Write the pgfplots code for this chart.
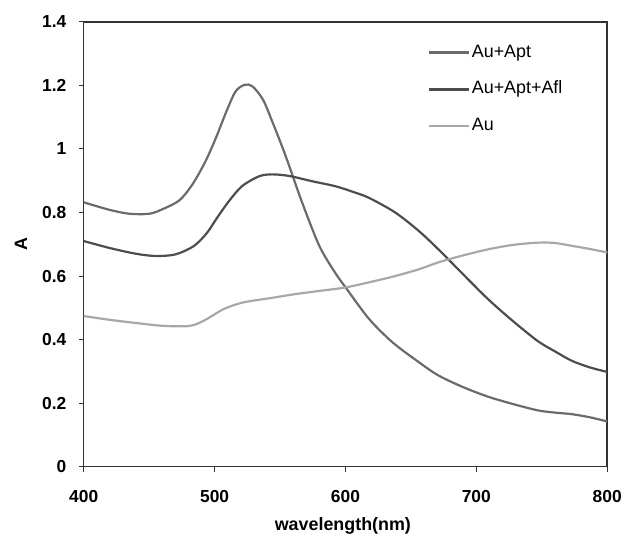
\documentclass[border=0pt]{standalone}
\usepackage{fontspec}
\setmainfont{Liberation Sans}
\usepackage{pgfplots}
\pgfplotsset{compat=1.18}
\definecolor{cApt}{HTML}{6B6B6B}
\definecolor{cAfl}{HTML}{4D4D4D}
\definecolor{cAu}{HTML}{A8A8A8}
\begin{document}
\begin{tikzpicture}[x=1bp,y=1bp]
\begin{axis}[
    scale only axis,
    width=525bp, height=446bp,
    xmin=400, xmax=800, ymin=0, ymax=1.4,
    xtick={400,500,...,800},
    ytick={0,0.2,...,1.4},
    yticklabels={0,0.2,0.4,0.6,0.8,1,1.2,1.4},
    tick pos=left, tick align=outside,
    major tick length=5bp,
    axis line style={draw=black!80, line width=1.5bp},
    tick style={draw=black!80, line width=1bp},
    /pgf/number format/assume math mode=true,
    ticklabel style={font=\fontsize{17.5}{20}\selectfont\bfseries},
    yticklabel style={xshift=-9bp},
    xticklabel style={yshift=-15bp},
    xlabel={wavelength(nm)},
    ylabel={A},
    label style={font=\fontsize{18}{21}\selectfont\bfseries},
    xlabel style={at={(rel axis cs:0.495,-0.1345)}, anchor=center},
    ylabel style={at={(rel axis cs:-0.12,0.5)}, anchor=center},
    legend style={draw=none, fill=none, at={(rel axis cs:0.657,0.955)}, anchor=north west,
        font=\fontsize{18}{21}\selectfont, row sep=16bp, inner sep=0pt,
        nodes={text height=13bp, text depth=4bp, inner xsep=2bp}},
    legend cell align=left,
    legend image code/.code={\draw[#1] (0bp,0bp) -- (40bp,0bp);},
    clip=false,
]
\addplot[cApt, line width=2.2bp, smooth] coordinates {
(400,0.832) (420,0.808) (435,0.796) (450,0.796) (460,0.810) (473,0.838)
(483,0.888) (493,0.961) (501,1.035) (509,1.118) (516,1.181) (523,1.202)
(529,1.197) (537,1.155) (544,1.087) (552,1.003) (558,0.935) (567,0.830)
(580,0.695) (592,0.611) (601,0.559) (618,0.465) (636,0.391) (656,0.329)
(671,0.287) (690,0.250) (709,0.220) (728,0.197) (747,0.177) (760,0.170)
(773,0.165) (787,0.155) (800,0.142)};
\addlegendentry{Au+Apt}
\addplot[cAfl, line width=2.2bp, smooth] coordinates {
(400,0.710) (420,0.688) (440,0.670) (455,0.663) (470,0.668) (484,0.694)
(494,0.735) (502,0.784) (511,0.836) (521,0.883) (534,0.914) (544,0.920)
(557,0.915) (575,0.898) (592,0.883) (605,0.866) (618,0.846) (638,0.800)
(656,0.742) (671,0.684) (690,0.605) (709,0.527) (728,0.458) (747,0.395)
(760,0.363) (773,0.333) (787,0.312) (800,0.298)};
\addlegendentry{Au+Apt+Afl}
\addplot[cAu, line width=2.2bp, smooth] coordinates {
(400,0.474) (420,0.462) (440,0.452) (461,0.443) (481,0.443) (492,0.460)
(507,0.496) (520,0.515) (532,0.524) (542,0.530) (560,0.542) (580,0.553)
(600,0.564) (620,0.582) (638,0.600) (656,0.621) (671,0.643) (690,0.665)
(709,0.684) (728,0.698) (747,0.705) (760,0.704) (773,0.695) (787,0.685)
(800,0.674)};
\addlegendentry{Au}
\path (rel axis cs:-0.16,-0.157) (rel axis cs:1.0305,1.0493);
\end{axis}
\end{tikzpicture}
\end{document}
